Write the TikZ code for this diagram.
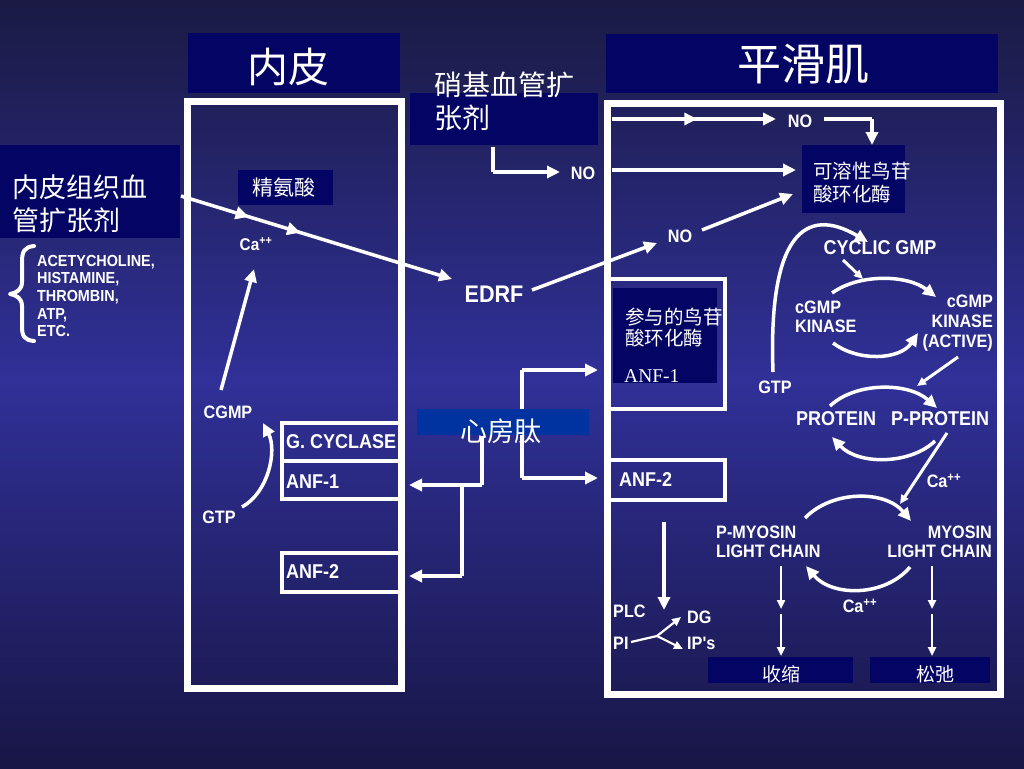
\documentclass[tikz,border=0pt]{standalone}
\usepackage{fontspec}
\setmainfont{Liberation Serif}
\newfontfamily\cjk{Noto Sans CJK SC}
\newfontfamily\lab[FakeStretch=0.9]{Liberation Sans}
\usetikzlibrary{arrows.meta,decorations.markings}
\definecolor{bgtop}{RGB}{26,26,68}
\definecolor{bgmid}{RGB}{48,48,152}
\definecolor{bgbot}{RGB}{24,22,70}
\definecolor{navy}{RGB}{4,4,100}
\definecolor{anpblue}{RGB}{0,50,160}
\begin{document}
\begin{tikzpicture}[x=1pt,y=-1pt,
  wl/.style={white, line width=3.5pt},
  arr/.style={wl, -{Triangle[width=12pt,length=13pt]}},
  tarr/.style={white, line width=2.2pt, -{Triangle[width=8pt,length=9pt]}},
  memb/.style={draw=white, line width=7pt},
  ibox/.style={draw=white, line width=3.5pt},
  cn/.style={text=white, inner sep=0pt, align=left},
  lb/.style={text=white, inner sep=0pt, align=left, font=\lab\bfseries\fontsize{18}{19}\selectfont},
  lbm/.style={lb, font=\lab\bfseries\fontsize{20}{20}\selectfont},
  lbs/.style={lb, font=\lab\bfseries\fontsize{16}{17.6}\selectfont},
  midtips/.style={postaction={decorate}, decoration={markings,
     mark=at position #1 with {\arrow{Triangle[width=12pt,length=13pt]}}}}
]
\useasboundingbox (0,0) rectangle (1024,768);
\shade[top color=bgtop, bottom color=bgmid] (0,0) rectangle (1024,380);
\shade[top color=bgmid, bottom color=bgbot] (0,380) rectangle (1024,768);

% membranes
\draw[memb] (187,101) rectangle (401,688);
\draw[memb] (607,103) rectangle (1000,694);
% receptor boxes
\draw[ibox] (282,423) rectangle (401,499);
\draw[ibox] (282,461) -- (401,461);
\draw[ibox] (282,553) rectangle (401,592);
\draw[ibox] (607,279) rectangle (725,409);
\draw[ibox] (607,460) rectangle (725,500);

% coordinates
\coordinate (lstart) at (181,196);
\coordinate (ledrf) at (452,279);
\coordinate (cgmpA) at (221,390);
\coordinate (caA) at (254,269);
\coordinate (gtpA) at (242,507);
\coordinate (cgmpB) at (263,423);
\coordinate (nitA) at (493,147);
\coordinate (nitB) at (493,172);
\coordinate (noA) at (560,172);
\coordinate (topA) at (612,119);
\coordinate (topB) at (776,119);
\coordinate (noB1) at (824,119);
\coordinate (noB2) at (872,119);
\coordinate (sgcTop) at (872,145);
\coordinate (midA) at (612,170);
\coordinate (midB) at (796,170);
\coordinate (edrfR) at (532,290);
\coordinate (noC) at (657,243);
\coordinate (noC2) at (702,230);
\coordinate (sgcL) at (793,194);
\coordinate (anpB) at (482,436);
\coordinate (anpC) at (482,485);
\coordinate (anpD) at (462,485);
\coordinate (anpE) at (462,576);
\coordinate (anf1L) at (409,485);
\coordinate (anf2L) at (409,576);
\coordinate (vR1) at (522,370);
\coordinate (vR2) at (522,478);
\coordinate (anf1R) at (598,370);
\coordinate (anf2R) at (598,478);
\coordinate (gtpR) at (773,372);
\coordinate (cycG) at (868,242);
\coordinate (cycA) at (843,260);
\coordinate (kinA) at (863,279);
\coordinate (actA) at (958,357);
\coordinate (protA) at (917,386);
\coordinate (ppA) at (947,433);
\coordinate (myoA) at (900,504);
\coordinate (anf2D) at (664,522);
\coordinate (plc) at (664,610);
\coordinate (piA) at (631,642);
\coordinate (piB) at (657,636);
\coordinate (dgA) at (681,617);
\coordinate (ipA) at (683,649);

% left side connectors
\draw[arr, midtips=0.25, midtips=0.44] (lstart) -- (ledrf);
\draw[arr] (cgmpA) -- (caA);
\draw[arr] (gtpA) .. controls (269,492) and (277,450) .. (cgmpB);
% nitrovasodilator
\draw[wl] (nitA) -- (nitB);
\draw[arr] (nitB) -- (noA);
% right entrance
\draw[arr, midtips=0.52] (topA) -- (topB);
\draw[wl] (noB1) -- (noB2);
\draw[arr] (noB2) -- (sgcTop);
\draw[arr] (midA) -- (midB);
\draw[arr] (edrfR) -- (noC);
\draw[arr] (noC2) -- (sgcL);
% ANP connectors
\draw[wl] (anpB) -- (anpC);
\draw[arr] (anpC) -- (anf1L);
\draw[wl] (anpD) -- (anpE);
\draw[arr] (anpE) -- (anf2L);
\draw[wl] (vR1) -- (vR2);
\draw[arr] (vR1) -- (anf1R);
\draw[arr] (vR2) -- (anf2R);
% smooth muscle cascade
\draw[arr] (gtpR) .. controls (768,235) and (805,205) .. (cycG);
\draw[tarr, line width=3pt] (cycA) -- (kinA);
\draw[arr] (832,293) .. controls (860,273) and (908,275) .. (936,297);
\draw[arr] (833,343) .. controls (858,362) and (900,360) .. (918,333);
\draw[tarr, line width=3pt] (actA) -- (protA);
\draw[arr] (830,406) .. controls (855,382) and (908,382) .. (937,408);
\draw[arr] (935,441) .. controls (910,465) and (858,465) .. (832,437);
\draw[tarr, line width=3pt] (ppA) -- (myoA);
\draw[arr] (805,518) .. controls (832,490) and (885,490) .. (911,521);
\draw[arr] (910,567) .. controls (885,597) and (832,597) .. (806,566);
\draw[tarr] (781,566) -- (781,609);
\draw[tarr] (781,614) -- (781,656);
\draw[tarr] (932,566) -- (932,609);
\draw[tarr] (932,614) -- (932,656);
\draw[arr] (anf2D) -- (plc);
\draw[white, line width=2.2pt] (piA) -- (piB);
\draw[tarr] (piB) -- (dgA);
\draw[tarr] (piB) -- (ipA);

% brace
\draw[white, line width=4pt, line cap=round, line join=round]
  (34,246) .. controls (24,247) and (22,252) .. (22,262) -- (22,282)
  .. controls (22,290) and (16,293) .. (10,294)
  .. controls (16,295) and (22,298) .. (22,306) -- (22,326)
  .. controls (22,336) and (24,340) .. (34,341);

% navy boxes
\fill[navy] (188,33) rectangle (400,93);
\fill[navy] (606,34) rectangle (998,93);
\fill[navy] (0,145) rectangle (180,238);
\fill[navy] (238,170) rectangle (333,205);
\fill[navy] (410,93) rectangle (598,145);
\fill[navy] (802,145) rectangle (905,213);
\fill[navy] (613,288) rectangle (717,383);
\fill[anpblue] (417,409) rectangle (589,435);
\fill[navy] (708,657) rectangle (853,683);
\fill[navy] (870,657) rectangle (990,683);

% Chinese texts
\node[cn, font=\cjk\fontsize{41}{45}\selectfont] (tEndo) at (288,67) {内皮};
\node[cn, font=\cjk\fontsize{44}{48}\selectfont] (tSmooth) at (803,64) {平滑肌};
\node[cn, anchor=west, font=\cjk\fontsize{27}{33}\selectfont] (endoDil) at (12,204) {内皮组织血\\管扩张剂};
\node[cn, font=\cjk\fontsize{21}{24}\selectfont] (arg) at (284,188) {精氨酸};
\node[cn, anchor=west, font=\cjk\fontsize{28}{33}\selectfont] (nitro) at (434,101) {硝基血管扩\\张剂};
\node[cn, anchor=west, font=\cjk\fontsize{19.5}{23}\selectfont] (sgc) at (813,183) {可溶性鸟苷\\酸环化酶};
\node[cn, anchor=west, font=\cjk\fontsize{19.5}{21}\selectfont] (pgc) at (625,328) {参与的鸟苷\\酸环化酶};
\node[cn, anchor=west, font=\fontsize{19.5}{21}\selectfont] (anfOne) at (624,376) {ANF-1};
\node[cn, font=\cjk\fontsize{27}{30}\selectfont] (anp) at (501,431) {心房肽};
\node[cn, font=\cjk\fontsize{19}{21}\selectfont] (contr) at (781,674) {收缩};
\node[cn, font=\cjk\fontsize{19}{21}\selectfont] (relax) at (935,674) {松弛};

% English labels
\node[lbs, anchor=west] (list) at (37,296) {ACETYCHOLINE,\\HISTAMINE,\\THROMBIN,\\ATP,\\ETC.};
\node[lb, font=\lab\bfseries\fontsize{17}{18}\selectfont] (caL) at (256,244) {Ca\textsuperscript{++}};
\node[lb] (cgmpL) at (228,412) {CGMP};
\node[lb] (gtpL) at (219,517) {GTP};
\node[lbm, anchor=west] (gcyc) at (286,442) {G. CYCLASE};
\node[lbm, anchor=west] (anf1) at (286,482) {ANF-1};
\node[lbm, anchor=west] (anf2) at (286,572) {ANF-2};
\node[lb, font=\lab\bfseries\fontsize{24}{24}\selectfont] (edrf) at (494,294) {EDRF};
\node[lb] (noN) at (583,173) {NO};
\node[lb] (noT) at (800,121) {NO};
\node[lb] (noM) at (680,236) {NO};
\node[lbm, anchor=west] (anf2r) at (619,480) {ANF-2};
\node[lbm] (cyc) at (880,248) {CYCLIC GMP};
\node[lb, anchor=west] (kin) at (795,317) {cGMP\\KINASE};
\node[lb, anchor=east, align=right, font=\lab\bfseries\fontsize{18}{20}\selectfont] (kinAct) at (993,323) {cGMP\\KINASE\\(ACTIVE)};
\node[lb] (gtpR) at (775,387) {GTP};
\node[lbm] (prot) at (836,419) {PROTEIN};
\node[lbm] (pprot) at (940,419) {P-PROTEIN};
\node[lb] (caR) at (944,481) {Ca\textsuperscript{++}};
\node[lb, anchor=west] (pmyo) at (716,542) {P-MYOSIN\\LIGHT CHAIN};
\node[lb, anchor=east, align=right] (myo) at (992,542) {MYOSIN\\LIGHT CHAIN};
\node[lb] (caB) at (860,606) {Ca\textsuperscript{++}};
\node[lb, anchor=west] (plcL) at (613,611) {PLC};
\node[lb, anchor=west] (piL) at (613,643) {PI};
\node[lb, anchor=west] (dgL) at (687,617) {DG};
\node[lb, anchor=west] (ipL) at (687,643) {IP's};
\end{tikzpicture}
\end{document}
